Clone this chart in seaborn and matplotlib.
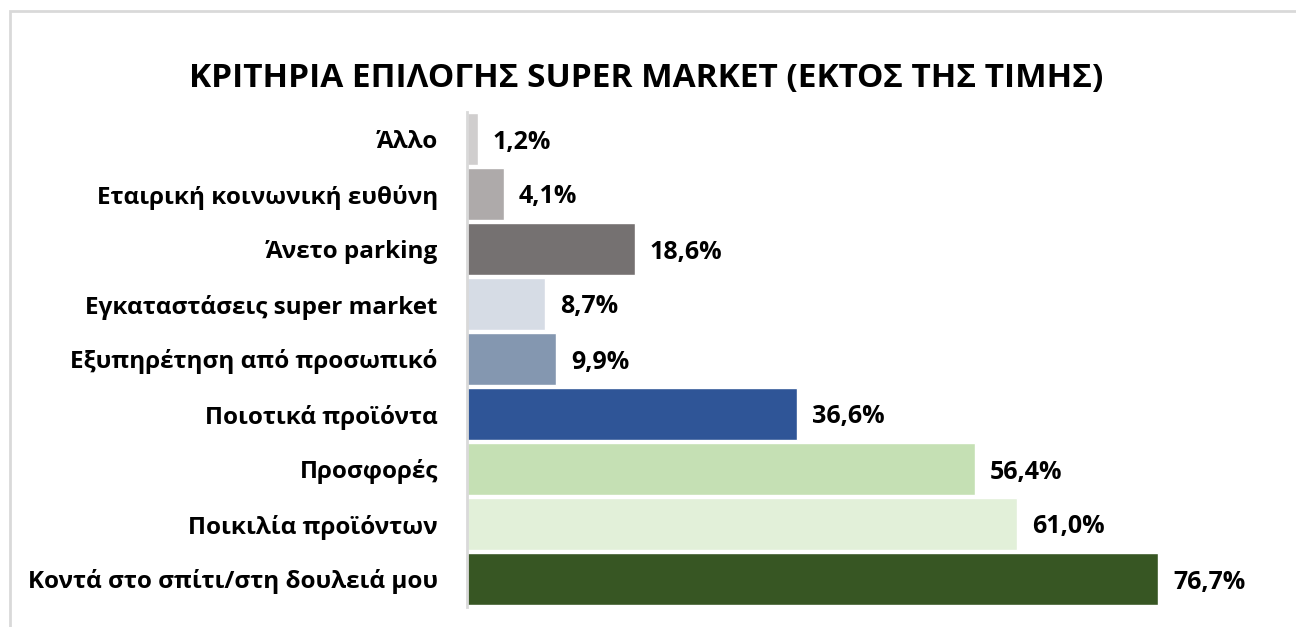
import matplotlib
matplotlib.use("Agg")
import matplotlib.pyplot as plt
import matplotlib.patches as mpatches
import seaborn as sns
import pandas as pd

# data (top to bottom as in the chart)
categories = [
    "Άλλο",
    "Εταιρική κοινωνική ευθύνη",
    "Άνετο parking",
    "Εγκαταστάσεις super market",
    "Εξυπηρέτηση από προσωπικό",
    "Ποιοτικά προϊόντα",
    "Προσφορές",
    "Ποικιλία προϊόντων",
    "Κοντά στο σπίτι/στη δουλειά μου",
]
values = [1.2, 4.1, 18.6, 8.7, 9.9, 36.6, 56.4, 61.0, 76.7]
colors = ["#d0cece", "#aeaaaa", "#757171", "#d6dce5", "#8497b0",
          "#2f5597", "#c5e0b4", "#e2f0d9", "#375623"]

df = pd.DataFrame({"cat": categories, "val": values})

sns.set_theme(style="white")
plt.rcParams["font.family"] = ["Open Sans", "DejaVu Sans"]

fig = plt.figure(figsize=(12.96, 6.27), dpi=100)
ax = fig.add_axes([467 / 1296, (627 - 606.5) / 627, 811 / 1296, 495 / 627])

sns.barplot(data=df, x="val", y="cat", hue="cat", palette=dict(zip(categories, colors)),
            orient="h", width=0.96, legend=False, ax=ax, saturation=1)

# value labels
for i, v in enumerate(values):
    ax.annotate(f"{v:.1f}%".replace(".", ","), xy=(v, i), xytext=(15, -3),
                textcoords="offset pixels",
                va="center", ha="left", fontsize=18, fontweight="bold", color="black")

ax.set_xlim(0, 90)
ax.set_ylim(8.5, -0.5)
ax.set_xlabel("")
ax.set_ylabel("")
ax.set_xticks([])
ax.tick_params(axis="y", length=0, pad=21, labelsize=17.5)
for lbl in ax.get_yticklabels():
    lbl.set_fontweight("bold")
    lbl.set_color("black")
for s in ["top", "right", "bottom"]:
    ax.spines[s].set_visible(False)
ax.spines["left"].set_color("#d9d9d9")
ax.spines["left"].set_linewidth(2)

fig.text(646 / 1296, 1 - 78 / 627, "ΚΡΙΤΗΡΙΑ ΕΠΙΛΟΓΗΣ SUPER MARKET (ΕΚΤΟΣ ΤΗΣ ΤΙΜΗΣ)",
         ha="center", va="center", fontsize=24, fontweight="bold", color="black")

# outer chart frame
fig.add_artist(mpatches.Rectangle((9.5 / 1296, -0.1), 1.2, 1.1 - 11 / 627,
                                  transform=fig.transFigure, fill=False,
                                  edgecolor="#d9d9d9", linewidth=2))

fig.savefig("out.png", dpi=100)
